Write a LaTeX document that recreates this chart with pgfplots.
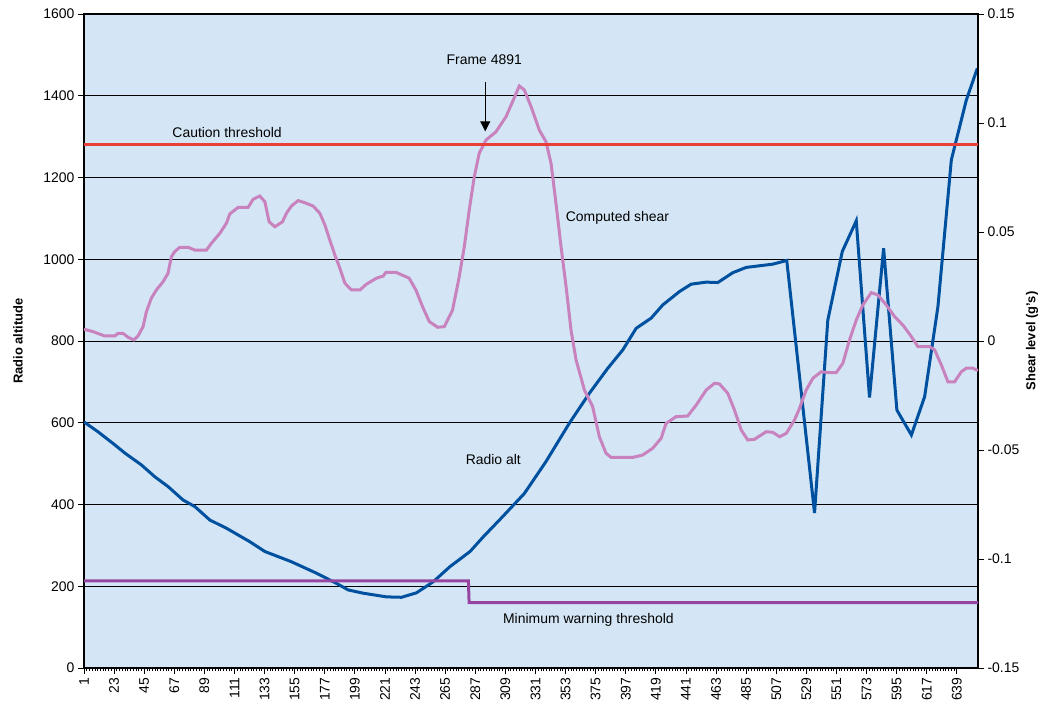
\documentclass[border=0pt]{standalone}
\usepackage{pgfplots}
\pgfplotsset{compat=1.18}
\usetikzlibrary{arrows.meta}
\usepackage{fontspec}
\setmainfont{Liberation Sans}
\definecolor{bgblue}{RGB}{212,230,245}
\definecolor{altblue}{RGB}{0,80,160}
\definecolor{shearpink}{RGB}{200,130,190}
\definecolor{cautred}{RGB}{232,64,56}
\definecolor{minpurple}{RGB}{150,70,160}
\begin{document}
\begin{tikzpicture}
\pgfplotsset{
 common/.style={
  scale only axis, width=894bp, height=654bp,
  xmin=1, xmax=654.5,
  tick align=outside,
  major tick length=6bp, minor tick length=3bp,
  tick style={black, line width=0.8bp},
  every tick label/.append style={font=\fontsize{14}{16}\selectfont},
  /pgf/number format/assume math mode=true,
  /pgf/number format/1000 sep={},
 }
}
\begin{axis}[common,
  ymin=0, ymax=1600, ytick={0,200,...,1600},
  xtick={1,23,...,639}, minor x tick num=10,
  xtick pos=bottom, ytick pos=left,
  x tick label style={rotate=90, anchor=east},
  ymajorgrids, grid style={black, line width=0.8bp},
  axis background/.style={fill=bgblue},
  axis line style={black, line width=1.5bp},
  ylabel={Radio altitude},
  ylabel style={font=\bfseries\fontsize{13}{15}\selectfont, at={(axis description cs:-0.0738,0.5)}, anchor=center},
]
\addplot[altblue, line width=3bp] coordinates {
(1,602) (11.2,578) (23.5,546) (30.8,526) (42.9,497) (52.7,468) (62.4,444) (73.4,411)
(82,395) (93,362) (105.1,342) (122.2,309) (133.2,285) (152.6,260) (170.9,232) (185.6,207)
(194.1,191) (205.1,183) (222.1,174) (233.1,173) (244.1,184) (256.3,211) (268.5,248) (283.2,285)
(292.9,321) (305.8,366) (322.9,427) (338.7,505) (355.8,599) (370.4,672) (383.8,733) (394.8,778)
(404.6,831) (415.6,856) (424,888) (436.3,921) (444.8,939) (455.8,944) (464.3,943) (475.2,967)
(485,980) (504.5,988) (514.7,997) (535,379) (544.7,851) (555.3,1019) (565.5,1094) (575.2,662)
(585.5,1027) (595.2,631) (605.8,570) (615.5,664) (625.2,884) (635,1243) (646,1390) (654,1467)
};
\node[font=\fontsize{14}{16}\selectfont] at (axis cs:105.6,1309) {Caution threshold};
\node[font=\fontsize{14}{16}\selectfont] at (axis cs:293.6,1487) {Frame 4891};
\draw[-{Triangle[length=10bp,width=10bp]}, line width=1bp] (axis cs:294.3,1434) -- (axis cs:294.3,1313);
\node[font=\fontsize{14}{16}\selectfont, anchor=west] at (axis cs:350.7,1101) {Computed shear};
\node[font=\fontsize{14}{16}\selectfont] at (axis cs:300.2,511) {Radio alt};
\node[font=\fontsize{14}{16}\selectfont] at (axis cs:369.7,117) {Minimum warning threshold};
\end{axis}
\begin{axis}[common,
  ymin=-0.15, ymax=0.15,
  ytick={-0.15,-0.1,-0.05,0,0.05,0.1,0.15},
  yticklabels={-0.15,-0.1,-0.05,0,0.05,0.1,0.15},
  hide x axis, axis y line*=right,
  axis line style={black, line width=1.5bp},
  ylabel={Shear level (g's)},
  ylabel style={font=\bfseries\fontsize{13}{15}\selectfont, at={(axis description cs:1.0604,0.5)}, anchor=center},
]
\addplot[shearpink, line width=3bp] coordinates {
(1,0.0054) (7.6,0.0043) (16.1,0.0023) (23.5,0.0023) (25.9,0.0035) (29.5,0.0035) (33.2,0.0017) (37.4,0.0005)
(40.5,0.0023) (44.2,0.0066) (46.6,0.0134) (50.2,0.0196) (53.9,0.0234) (58.8,0.0272) (62.4,0.031) (64.9,0.0387)
(67.3,0.041) (71,0.043) (77.1,0.043) (82,0.0417) (90.5,0.0417) (94.1,0.0448) (100.3,0.0494) (105.1,0.054)
(107.6,0.0583) (113.7,0.0613) (121,0.0613) (124.6,0.065) (129.5,0.0665) (133.2,0.0639) (136.3,0.0547) (140.5,0.0524)
(146.1,0.0547) (149,0.0586) (152.6,0.0619) (157.5,0.0644) (162.5,0.0634) (168.5,0.0619) (173.4,0.0586) (177.1,0.0532)
(180.7,0.0463) (184.4,0.0394) (188.1,0.0333) (191.7,0.0265) (196.5,0.0234) (202.7,0.0234) (207.5,0.0261) (214.8,0.0288)
(219.7,0.0298) (221.7,0.0315) (229,0.0315) (238.7,0.0288) (243.6,0.0234) (248.5,0.0157) (253.4,0.0089) (259.5,0.0063)
(264.4,0.0066) (270.4,0.0142) (275.3,0.0295) (279,0.0433) (282.6,0.0601) (286.3,0.0754) (289.9,0.0861) (294.9,0.0922)
(302.2,0.096) (309.5,0.1029) (314.3,0.1098) (319.2,0.117) (322.9,0.1151) (327.8,0.1075) (333.8,0.0968) (338.7,0.0914)
(342.4,0.0815) (346,0.0632) (349.7,0.0433) (353.4,0.0249) (357,0.005) (360.7,-0.0087) (366.8,-0.0225) (372.8,-0.0301)
(377.7,-0.0439) (382.6,-0.0515) (386.3,-0.0534) (402.1,-0.0534) (409.4,-0.0523) (416.7,-0.0492) (422.9,-0.0446) (426.5,-0.0378)
(433.8,-0.0347) (442.3,-0.0344) (448.5,-0.0294) (455.8,-0.0225) (461.9,-0.0194) (465.5,-0.0197) (471.6,-0.024) (476.5,-0.0317)
(481.4,-0.0408) (486.2,-0.0454) (491.1,-0.0451) (496,-0.0431) (499.7,-0.0416) (504.5,-0.0419) (509.4,-0.0439) (514.3,-0.0424)
(520.4,-0.0362) (524,-0.0309) (528.9,-0.0225) (533.8,-0.0171) (539.9,-0.0141) (546,-0.0145) (550.9,-0.0145) (555.7,-0.0102)
(560.6,0.0005) (565.5,0.0096) (570.3,0.0165) (576.5,0.0222) (581.3,0.0211) (587.5,0.0165) (593.5,0.0112) (599.6,0.0073)
(605.8,0.002) (610.6,-0.0026) (619.1,-0.0026) (622.8,-0.0041) (627.7,-0.011) (632.5,-0.0187) (637.4,-0.0187) (642.3,-0.0141)
(645.9,-0.0125) (650.8,-0.0125) (654.5,-0.0136)
};
\addplot[cautred, line width=3bp] coordinates {(1,0.09) (654.5,0.09)};
\addplot[minpurple, line width=3bp] coordinates {(1,-0.11) (282,-0.11) (282.5,-0.12) (654.5,-0.12)};
\end{axis}
\pgfresetboundingbox
\path[use as bounding box] (-84bp,-39bp) rectangle (962bp,668bp);
\end{tikzpicture}
\end{document}
